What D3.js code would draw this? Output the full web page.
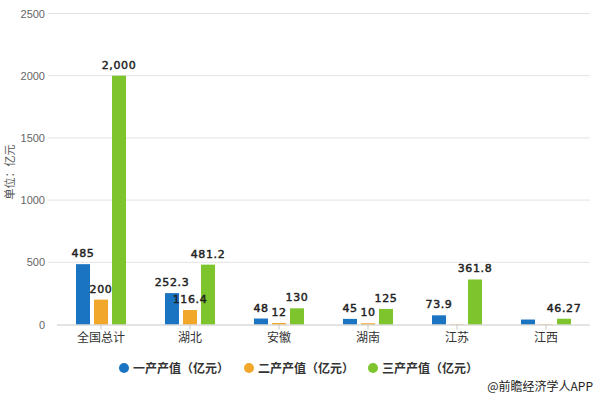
<!DOCTYPE html>
<html><head><meta charset="utf-8">
<script src="https://cdn.jsdelivr.net/npm/d3@7"></script>
<style>body{margin:0;background:#fff}svg{display:block}</style>
</head><body>
<svg id="c" width="600" height="398"></svg>
<script>
const categories = ["全国总计","湖北","安徽","湖南","江苏","江西"];
const seriesNames = ["一产产值（亿元）","二产产值（亿元）","三产产值（亿元）"];
const primary = [485, 252.3, 48, 45, 73.9, 40];
const secondary = [200, 116.4, 12, 10, 3, 3];
const tertiary = [2000, 481.2, 130, 125, 361.8, 46.27];
const primaryLabels = ["485","252.3","48","45","73.9",""];
const secondaryLabels = ["200","116.4","12","10","",""];
const tertiaryLabels = ["2,000","481.2","130","125","361.8","46.27"];
const yTicks = [0,500,1000,1500,2000,2500];
const colors = ["#1b74c2","#f1a82a","#7dc42d"];

const values = [primary, secondary, tertiary];
const labels = [primaryLabels, secondaryLabels, tertiaryLabels];

const svg = d3.select("#c");
const x0 = d3.scaleBand().domain(categories).range([56.5, 590.5]).paddingInner(0);
const x1 = d3.scaleBand().domain(d3.range(3)).range([0, 50]).paddingInner(0.2222);
const y = d3.scaleLinear().domain([0, 2500]).range([324.5, 13.5]);
const groupOff = (x0.bandwidth() - 50) / 2;

// gridlines
svg.append("g").selectAll("line").data(yTicks.filter(d=>d>0)).join("line")
  .attr("x1", 48).attr("x2", 590).attr("y1", d=>y(d)).attr("y2", d=>y(d))
  .attr("stroke", "#e3e3e3").attr("stroke-width", 1);

// y axis labels
const yAxis = d3.axisLeft(y).tickValues(yTicks).tickSize(0).tickPadding(0).tickFormat(d3.format("d"));
const ya = svg.append("g").attr("transform", "translate(45,0)").call(yAxis);
ya.select(".domain").remove();
ya.selectAll("text").attr("font-family","Liberation Sans, Arial, sans-serif").attr("font-size", 11).attr("fill", "#666");

// y title
svg.append("text").attr("transform","translate(14,172) rotate(-90)").attr("text-anchor","middle")
  .attr("font-family","Noto Sans CJK SC, sans-serif").attr("font-size",11).attr("fill","#555").text("单位：亿元");

// bars
const g = svg.append("g");
values.forEach((vals, si) => {
  g.append("g").selectAll("rect").data(vals).join("rect")
    .attr("x", (d,i)=> x0(categories[i]) + groupOff + x1(si))
    .attr("width", x1.bandwidth())
    .attr("y", d=>y(d))
    .attr("height", d=> y(0) - y(d))
    .attr("fill", colors[si]);
});

// x axis
const xAxis = d3.axisBottom(x0).tickSize(5).tickPadding(4);
const xa = svg.append("g").attr("transform", `translate(0,${y(0)})`).call(xAxis);
xa.select(".domain").attr("d", `M57,0.5H590`).attr("stroke","#c8c8c8");
xa.selectAll(".tick line").attr("stroke","#c8c8c8");
xa.selectAll("text").attr("font-family","Noto Sans CJK SC, sans-serif").attr("font-size",12).attr("fill","#333");

// value labels
values.forEach((vals, si) => {
  svg.append("g").selectAll("text").data(vals).join("text")
    .attr("x", (d,i)=> x0(categories[i]) + groupOff + x1(si) + x1.bandwidth()/2)
    .attr("y", d=> y(d) - 7)
    .attr("text-anchor","middle")
    .attr("font-family","DejaVu Sans, sans-serif").attr("font-size",11)
    .attr("letter-spacing", 0.6)
    .attr("fill","#222").attr("stroke","#222").attr("stroke-width",0.45)
    .text((d,i)=> labels[si][i]);
});

// legend
const legX = [124, 249, 373];
const leg = svg.append("g");
seriesNames.forEach((n, i) => {
  leg.append("circle").attr("cx", legX[i]).attr("cy", 368).attr("r", 5).attr("fill", colors[i]);
  leg.append("text").attr("x", legX[i] + 9).attr("y", 372.5)
    .attr("font-family","Noto Sans CJK SC, sans-serif").attr("font-size",12).attr("font-weight","bold")
    .attr("fill","#333").text(n);
});

// source
svg.append("text").attr("x", 593).attr("y", 391).attr("text-anchor","end")
  .attr("font-family","Noto Sans CJK SC, sans-serif").attr("font-size",12).attr("fill","#222")
  .text("@前瞻经济学人APP");
</script>
</body></html>
